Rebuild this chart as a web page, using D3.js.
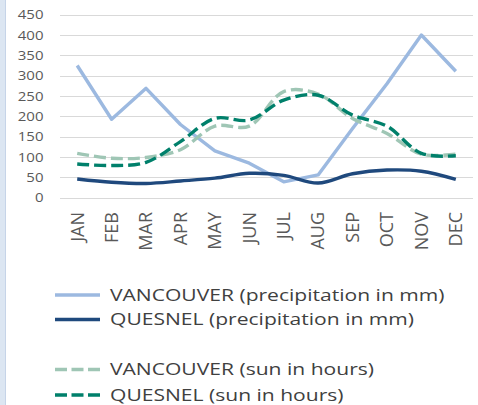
<!DOCTYPE html>
<html>
<head>
<meta charset="utf-8">
<script src="https://cdn.jsdelivr.net/npm/d3@7"></script>
<style>
  body { margin: 0; background: #fff; }
  svg { display: block; font-family: "Open Sans", sans-serif; }
</style>
</head>
<body>
<svg id="chart" width="478" height="405"></svg>
<script>
// chart data
var months = ['JAN', 'FEB', 'MAR', 'APR', 'MAY', 'JUN', 'JUL', 'AUG', 'SEP', 'OCT', 'NOV', 'DEC'];
var yTicks = [0, 50, 100, 150, 200, 250, 300, 350, 400, 450];
var vanPrecip = [325, 193, 269, 180, 115, 85, 39, 56, 170, 280, 400, 311];
var quePrecip = [46, 38, 35, 41, 48, 60, 55, 36, 59, 68, 65, 45];
var vanSun = [109, 97, 99, 118, 176, 176, 261, 255, 195, 158, 107, 107];
var queSun = [83, 79, 87, 138, 195, 191, 240, 252, 203, 176, 109, 103];

var series = [
  { name: 'VANCOUVER (precipitation in mm)', values: vanPrecip, color: '#9cb9e0', dash: null, smooth: false },
  { name: 'QUESNEL (precipitation in mm)', values: quePrecip, color: '#1f497d', dash: null, smooth: true },
  { name: 'VANCOUVER (sun in hours)', values: vanSun, color: '#9fc6b5', dash: '12,5', smooth: true },
  { name: 'QUESNEL (sun in hours)', values: queSun, color: '#00806b', dash: '12,5', smooth: true }
];

var svg = d3.select('#chart');

// pale strip on the left edge
svg.append('rect')
  .attr('x', 0).attr('y', 0)
  .attr('width', 5).attr('height', 405)
  .attr('fill', '#dce6f2');
svg.append('line')
  .attr('x1', 5.5).attr('x2', 5.5)
  .attr('y1', 0).attr('y2', 405)
  .attr('stroke', '#c6d4e8');

var x = d3.scaleBand().domain(months).range([60, 473]);
var y = d3.scaleLinear().domain([0, 450]).range([197.7, 14.7]);

// gridlines
svg.append('g')
  .selectAll('line')
  .data(yTicks)
  .join('line')
  .attr('x1', 60).attr('x2', 473)
  .attr('y1', function (d) { return Math.round(y(d)) + 0.5; })
  .attr('y2', function (d) { return Math.round(y(d)) + 0.5; })
  .attr('stroke', '#d9d9d9')
  .attr('stroke-width', 1.2);

// y axis labels (the reference text is a bit stretched sideways)
var yAxis = d3.axisLeft(y).tickValues(yTicks).tickSize(0).tickPadding(0);
var yg = svg.append('g').attr('transform', 'translate(43.5,0)').call(yAxis);
yg.select('.domain').remove();
yg.selectAll('text')
  .attr('fill', '#595959')
  .attr('x', 0)
  .attr('transform', 'scale(1.2,1)')
  .style('font-size', '12.5px')
  .style('font-family', '"Open Sans", sans-serif');

// month labels, rotated
var xAxis = d3.axisBottom(x).tickSize(0).tickPadding(0);
var xg = svg.append('g').attr('transform', 'translate(0,212)').call(xAxis);
xg.select('.domain').remove();
xg.selectAll('text')
  .attr('fill', '#595959')
  .style('font-size', '15px')
  .style('font-family', '"Open Sans", sans-serif')
  .attr('text-anchor', 'end')
  .attr('dy', '0.35em')
  .attr('x', 0).attr('y', 0)
  .attr('transform', 'scale(1.2,1.2) rotate(-90)');

// lines
series.forEach(function (s) {
  var line = d3.line()
    .x(function (d, i) { return x(months[i]) + x.bandwidth() / 2; })
    .y(function (d) { return y(d); })
    .curve(s.smooth ? d3.curveCatmullRom.alpha(0.5) : d3.curveLinear);
  svg.append('path')
    .datum(s.values)
    .attr('d', line)
    .attr('fill', 'none')
    .attr('stroke', s.color)
    .attr('stroke-width', 3.4)
    .attr('stroke-linejoin', 'round')
    .attr('stroke-dasharray', s.dash);
});

// legend
var legendY = [295, 319.5, 369.5, 395];
var legend = svg.append('g')
  .selectAll('g')
  .data(series)
  .join('g')
  .attr('transform', function (d, i) { return 'translate(0,' + legendY[i] + ')'; });

legend.append('line')
  .attr('x1', 55).attr('x2', 100)
  .attr('stroke', function (d) { return d.color; })
  .attr('stroke-width', 3.4)
  .attr('stroke-dasharray', function (d) { return d.dash ? '12,4.5' : null; });

legend.append('text')
  .attr('transform', 'translate(110,0) scale(1.24,1)')
  .attr('dy', '0.35em')
  .attr('fill', '#404040')
  .style('font-size', '17px')
  .text(function (d) { return d.name; });
</script>
</body>
</html>
